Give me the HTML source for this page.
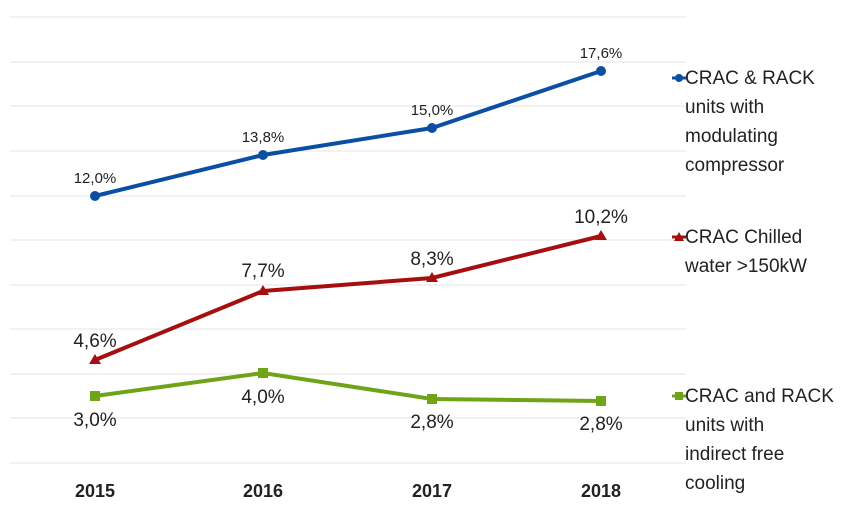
<!DOCTYPE html>
<html><head><meta charset="utf-8"><style>
body{margin:0;background:#fff}
svg{display:block;font-family:"Liberation Sans",sans-serif}
</style></head><body>
<svg width="850" height="519" xmlns="http://www.w3.org/2000/svg">
<g stroke="#e6e6e6" stroke-width="1">
<line x1="10" x2="686" y1="17" y2="17"/><line x1="10" x2="686" y1="62" y2="62"/>
<line x1="10" x2="686" y1="106" y2="106"/><line x1="10" x2="686" y1="151" y2="151"/>
<line x1="10" x2="686" y1="196" y2="196"/><line x1="10" x2="686" y1="240" y2="240"/>
<line x1="10" x2="686" y1="285" y2="285"/><line x1="10" x2="686" y1="329" y2="329"/>
<line x1="10" x2="686" y1="374" y2="374"/><line x1="10" x2="686" y1="418" y2="418"/>
<line x1="10" x2="686" y1="463" y2="463"/>
</g>
<polyline points="95,196 263,155 432,128 601,71" fill="none" stroke="#0b4fa3" stroke-width="4"/>
<g fill="#0b4fa3"><circle cx="95" cy="196" r="5"/><circle cx="263" cy="155" r="5"/><circle cx="432" cy="128" r="5"/><circle cx="601" cy="71" r="5"/></g>
<polyline points="95,360 263,291 432,278 601,236" fill="none" stroke="#a50f0f" stroke-width="4"/>
<g fill="#a50f0f"><polygon points="95,354 101,364 89,364"/><polygon points="263,285 269,295 257,295"/><polygon points="432,272 438,282 426,282"/><polygon points="601,230 607,240 595,240"/></g>
<polyline points="95,396 263,373 432,399 601,401" fill="none" stroke="#6fa318" stroke-width="4"/>
<g fill="#6fa318"><rect x="90" y="391" width="10" height="10"/><rect x="258" y="368" width="10" height="10"/><rect x="427" y="394" width="10" height="10"/><rect x="596" y="396" width="10" height="10"/></g>
<g fill="#222" font-size="15" text-anchor="middle">
<text x="95" y="183">12,0%</text><text x="263" y="142">13,8%</text><text x="432" y="115">15,0%</text><text x="601" y="58">17,6%</text>
</g>
<g fill="#222" font-size="19" text-anchor="middle">
<text x="95" y="347">4,6%</text><text x="263" y="277">7,7%</text><text x="432" y="265">8,3%</text><text x="601" y="223">10,2%</text>
<text x="95" y="426">3,0%</text><text x="263" y="403">4,0%</text><text x="432" y="428">2,8%</text><text x="601" y="430">2,8%</text>
</g>
<g fill="#222" font-size="18" font-weight="bold" text-anchor="middle">
<text x="95" y="497">2015</text><text x="263" y="497">2016</text><text x="432" y="497">2017</text><text x="601" y="497">2018</text>
</g>
<line x1="672" x2="686" y1="78" y2="78" stroke="#0b4fa3" stroke-width="3"/><circle cx="679" cy="78" r="4" fill="#0b4fa3"/>
<line x1="672" x2="686" y1="237" y2="237" stroke="#a50f0f" stroke-width="3"/><polygon points="679,232 684,241 674,241" fill="#a50f0f"/>
<line x1="672" x2="686" y1="396" y2="396" stroke="#6fa318" stroke-width="3"/><rect x="675" y="392" width="8" height="8" fill="#6fa318"/>
<g fill="#222" font-size="19">
<text x="685" y="84">CRAC &amp; RACK</text><text x="685" y="113">units with</text><text x="685" y="142">modulating</text><text x="685" y="171">compressor</text>
<text x="685" y="243">CRAC Chilled</text><text x="685" y="272">water &gt;150kW</text>
<text x="685" y="402">CRAC and RACK</text><text x="685" y="431">units with</text><text x="685" y="460">indirect free</text><text x="685" y="489">cooling</text>
</g>
</svg>
</body></html>
